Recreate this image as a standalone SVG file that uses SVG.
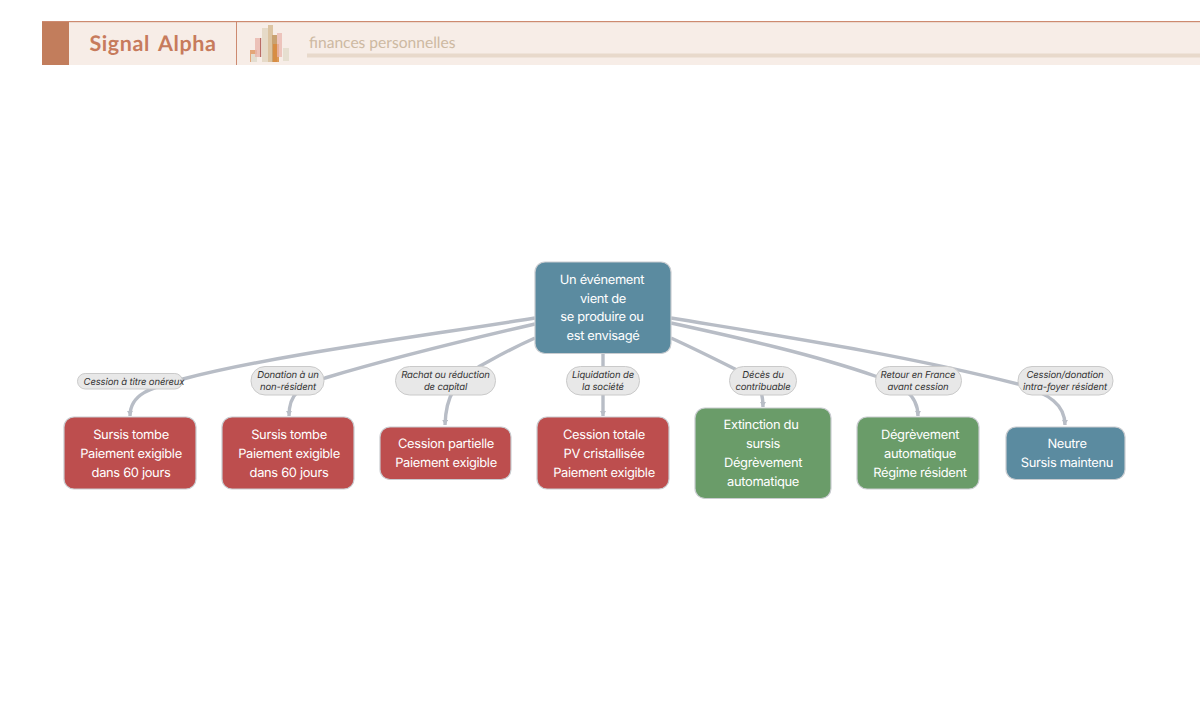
<svg xmlns="http://www.w3.org/2000/svg" width="1200" height="721" viewBox="0 0 1200 721">
<style>
text{text-rendering:geometricPrecision}
.e{fill:none;stroke:#b8bdc6;stroke-width:3.4;marker-end:url(#a)}
.n{stroke:#c9ccd0;stroke-width:1.2}
.r{fill:#bd4e4e}.g{fill:#6a9c69}.b{fill:#5b8ba0}
.t{font-family:Inter,"Liberation Sans",sans-serif;font-size:12.9px;letter-spacing:-.33px;fill:#fff;text-anchor:middle}
.l{fill:#e8e8e8;stroke:#cacaca;stroke-width:1}
.lt{font-family:Inter,"Liberation Sans",sans-serif;font-size:9.5px;letter-spacing:-.13px;font-style:italic;fill:#333;text-anchor:middle}
</style>
<defs><marker id="a" markerUnits="userSpaceOnUse" markerWidth="7" markerHeight="6" refX="5" refY="3" orient="auto"><path d="M0,0L5,3L0,6Z" fill="#b8bdc6"/></marker></defs>
<rect width="1200" height="721" fill="#fff"/>
<g id="header">
<rect x="42" y="22" width="1158" height="43" fill="#f7ede7"/>
<rect x="42" y="21" width="1158" height="1.2" fill="#cd8a70"/>
<rect x="42" y="22" width="27" height="43" fill="#c27d5c"/>
<rect x="236" y="22" width="1" height="43" fill="#cd8a70"/>
<text x="153" y="50.500" font-family="Lato,'Open Sans',sans-serif" font-weight="700" font-size="21.500" letter-spacing=".6" word-spacing="3" fill="#c77b5c" text-anchor="middle">Signal Alpha</text>
<text x="309" y="48" font-family="Lato,'Open Sans',sans-serif" font-size="15.600" fill="#cdb9a2">finances personnelles</text>
<rect x="307" y="53.500" width="893" height="4" fill="#e8d9cb"/>
<g id="chart">
<rect x="250" y="50" width="7" height="12" fill="#e3a679"/><rect x="251" y="54" width="6" height="8" fill="#e3ddd0"/>
<rect x="255" y="38" width="6" height="19" fill="#e9b5ad" opacity=".8"/><rect x="260" y="38" width="1.2" height="19" fill="#b96d66"/>
<rect x="262" y="28" width="6" height="34" fill="#e6dac8"/>
<rect x="268" y="25" width="5" height="37" fill="#dcc4a2"/>
<rect x="272" y="35" width="5" height="27" fill="#c9a271"/>
<rect x="273" y="44" width="6" height="18" fill="#d98a3c" opacity=".85"/>
<rect x="277" y="33" width="5" height="24" fill="#e9b5ad" opacity=".75"/>
<rect x="283" y="48" width="6" height="13" fill="#e6dfd0"/>
</g>
</g>
<g id="connectors">
<path class="e" d="M535 318C410 338 270 356 183 379C150 388 130 394 130 416"/>
<path class="e" d="M535 324C440 346 385 360 325 378C300 388 289 392 289 416"/>
<path class="e" d="M535 338C510 349 495 358 480 366C455 382 446 395 445 425"/>
<path class="e" d="M603 354L603 416"/>
<path class="e" d="M671 338C695 349 715 359 733 368C755 378 763 385 763 407"/>
<path class="e" d="M671 323C740 338 815 355 875 376C900 385 918 393 918 416"/>
<path class="e" d="M671 318C780 336 900 354 1018 384C1050 394 1065 405 1065 425"/>
</g>
<g id="root"><rect class="n b" x="535" y="262" width="136" height="91.500" rx="10"/>
<text class="t" x="602" y="284">Un événement</text><text class="t" x="603" y="303">vient de</text><text class="t" x="602" y="321">se produire ou</text><text class="t" x="603" y="340">est envisagé</text></g>
<g id="n1"><rect class="n r" x="64" y="417" width="132" height="72" rx="10"/>
<text class="t" x="131" y="439">Sursis tombe</text><text class="t" x="131" y="458">Paiement exigible</text><text class="t" x="131" y="477">dans 60 jours</text></g>
<g id="n2"><rect class="n r" x="222" y="417" width="132" height="72" rx="10"/>
<text class="t" x="289" y="439">Sursis tombe</text><text class="t" x="289" y="458">Paiement exigible</text><text class="t" x="289" y="477">dans 60 jours</text></g>
<g id="n3"><rect class="n r" x="380" y="427" width="131" height="52.500" rx="10"/>
<text class="t" x="446" y="448">Cession partielle</text><text class="t" x="446" y="467">Paiement exigible</text></g>
<g id="n4"><rect class="n r" x="537" y="417" width="132" height="72" rx="10"/>
<text class="t" x="604" y="439">Cession totale</text><text class="t" x="604" y="458">PV cristallisée</text><text class="t" x="604" y="477">Paiement exigible</text></g>
<g id="n5"><rect class="n g" x="695" y="408" width="136" height="90.500" rx="10"/>
<text class="t" x="761" y="429">Extinction du</text><text class="t" x="763" y="448">sursis</text><text class="t" x="763" y="467">Dégrèvement</text><text class="t" x="763" y="486">automatique</text></g>
<g id="n6"><rect class="n g" x="857" y="417" width="122" height="72" rx="10"/>
<text class="t" x="920" y="439">Dégrèvement</text><text class="t" x="920" y="458">automatique</text><text class="t" x="920" y="477">Régime résident</text></g>
<g id="n7"><rect class="n b" x="1006" y="427" width="119" height="52.500" rx="10"/>
<text class="t" x="1067" y="448">Neutre</text><text class="t" x="1067" y="467">Sursis maintenu</text></g>
<g id="l1"><rect class="l" x="77.500" y="373.500" width="105" height="15.500" rx="7.700"/><text class="lt" x="134" y="384.500">Cession à titre onéreux</text></g>
<g id="l2"><rect class="l" x="251" y="366.500" width="73" height="28.500" rx="14"/><text class="lt" x="288" y="377.500">Donation à un</text><text class="lt" x="288" y="390">non-résident</text></g>
<g id="l3"><rect class="l" x="395.500" y="366.500" width="100" height="28.500" rx="14"/><text class="lt" x="445.500" y="377.500">Rachat ou réduction</text><text class="lt" x="445.500" y="390">de capital</text></g>
<g id="l4"><rect class="l" x="566.500" y="366.500" width="73" height="28.500" rx="14"/><text class="lt" x="603" y="377.500">Liquidation de</text><text class="lt" x="603" y="390">la société</text></g>
<g id="l5"><rect class="l" x="729.500" y="366.500" width="67" height="28.500" rx="14"/><text class="lt" x="763" y="377.500">Décès du</text><text class="lt" x="763" y="390">contribuable</text></g>
<g id="l6"><rect class="l" x="875.500" y="366.500" width="86" height="28.500" rx="14"/><text class="lt" x="918" y="377.500">Retour en France</text><text class="lt" x="918" y="390">avant cession</text></g>
<g id="l7"><rect class="l" x="1018" y="366.500" width="95" height="28.500" rx="14"/><text class="lt" x="1065" y="377.500">Cession/donation</text><text class="lt" x="1065" y="390">intra-foyer résident</text></g>
</svg>
